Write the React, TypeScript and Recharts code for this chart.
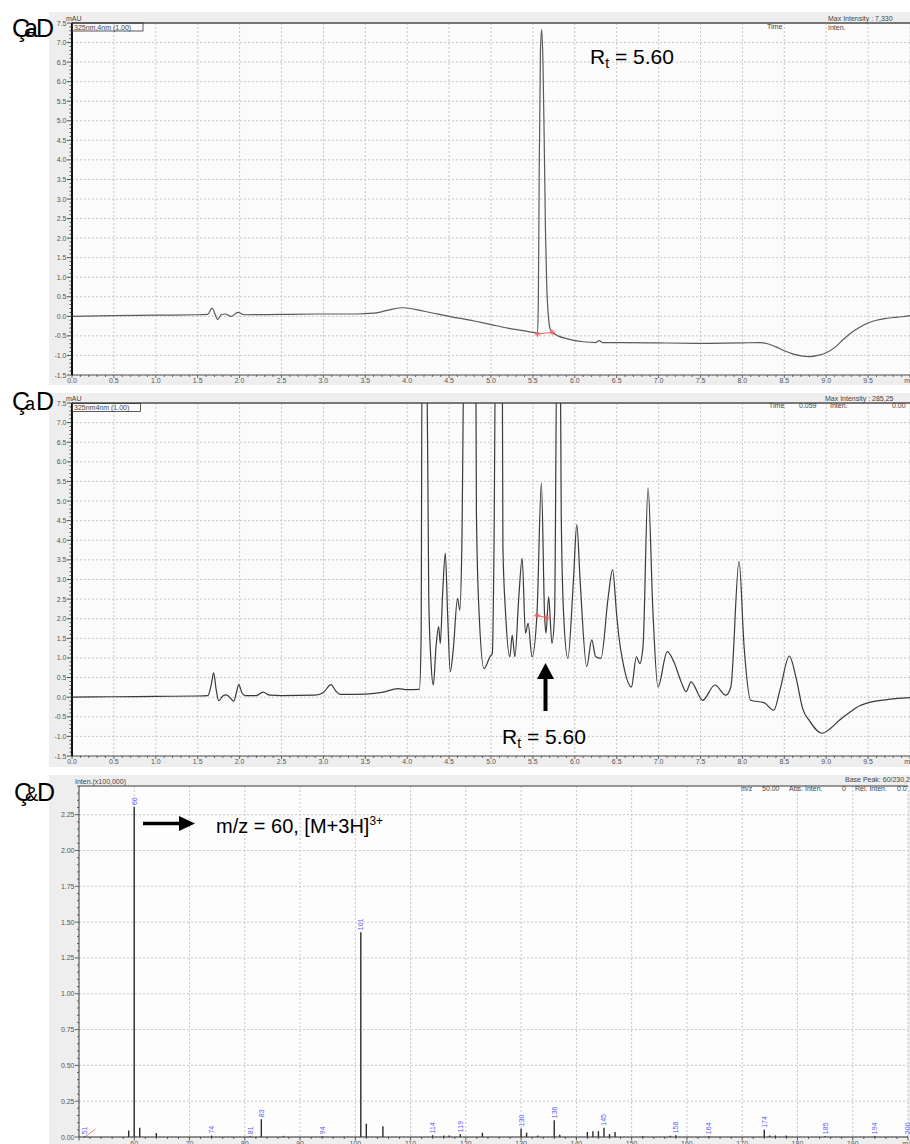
import React from 'react';
import {
  ComposedChart, Line, Bar, XAxis, YAxis, CartesianGrid, ReferenceLine, LabelList,
} from 'recharts';

const FONT = '"Liberation Sans", Arial, sans-serif';

// (a) standard, 325 nm trace (min / mAU)
const timeA = [0, 0.5, 1.0, 1.5, 1.62, 1.67, 1.74, 1.78, 1.83, 1.9, 1.98, 2.05, 2.5, 3.0, 3.4, 3.6, 3.7, 3.8, 3.95, 4.2, 4.5, 4.8, 5.0, 5.2, 5.4, 5.5, 5.555, 5.565, 5.575, 5.59, 5.605, 5.62, 5.635, 5.65, 5.665, 5.685, 5.71, 5.74, 5.8, 5.9, 6.0, 6.1, 6.25, 6.29, 6.33, 6.5, 7.0, 7.5, 8.0, 8.2, 8.3, 8.4, 8.5, 8.6, 8.7, 8.8, 8.9, 9.0, 9.1, 9.2, 9.3, 9.4, 9.5, 9.6, 9.7, 9.8, 9.9, 10.0];
const mauA = [0.0, 0.02, 0.03, 0.04, 0.05, 0.21, -0.08, 0.04, 0.06, 0.0, 0.1, 0.04, 0.05, 0.06, 0.06, 0.08, 0.12, 0.17, 0.22, 0.13, 0.0, -0.12, -0.21, -0.3, -0.37, -0.41, -0.43, 0.4, 3.6, 6.8, 7.33, 6.5, 4.5, 2.2, 0.8, 0.0, -0.35, -0.42, -0.5, -0.57, -0.62, -0.65, -0.67, -0.62, -0.67, -0.67, -0.68, -0.69, -0.68, -0.67, -0.7, -0.78, -0.88, -0.96, -1.01, -1.03, -1.0, -0.93, -0.8, -0.6, -0.42, -0.28, -0.17, -0.1, -0.06, -0.03, -0.01, 0.02];
const baseTimeA = [5.555, 5.73];
const baseMauA = [-0.45, -0.41];

// (b) sample, 325 nm trace (min / mAU); large peaks run off scale
const timeB = [0, 0.5, 1.0, 1.5, 1.62, 1.66, 1.69, 1.72, 1.75, 1.8, 1.84, 1.89, 1.93, 1.96, 1.99, 2.03, 2.07, 2.2, 2.28, 2.36, 2.5, 2.9, 3.0, 3.09, 3.15, 3.2, 3.5, 3.7, 3.89, 4.0, 4.146, 4.166, 4.178, 4.233, 4.257, 4.285, 4.312, 4.344, 4.375, 4.395, 4.423, 4.455, 4.482, 4.514, 4.549, 4.601, 4.628, 4.652, 4.68, 4.818, 4.826, 4.858, 4.917, 4.988, 5.016, 5.036, 5.055, 5.134, 5.142, 5.174, 5.225, 5.253, 5.285, 5.332, 5.372, 5.411, 5.443, 5.49, 5.549, 5.601, 5.64, 5.656, 5.688, 5.727, 5.759, 5.787, 5.826, 5.838, 5.866, 5.917, 5.984, 6.024, 6.063, 6.142, 6.202, 6.249, 6.312, 6.399, 6.451, 6.498, 6.526, 6.577, 6.676, 6.735, 6.775, 6.814, 6.874, 6.933, 6.992, 7.103, 7.182, 7.269, 7.328, 7.387, 7.526, 7.672, 7.802, 7.862, 7.96, 8.02, 8.099, 8.257, 8.375, 8.45, 8.56, 8.64, 8.72, 8.8, 8.95, 9.05, 9.15, 9.29, 9.4, 9.54, 9.7, 9.85, 10.0];
const mauB = [0.0, 0.01, 0.02, 0.03, 0.04, 0.3, 0.62, 0.2, -0.09, 0.03, 0.06, -0.02, -0.1, 0.1, 0.32, 0.1, 0.04, 0.04, 0.13, 0.05, 0.04, 0.05, 0.12, 0.32, 0.15, 0.07, 0.08, 0.12, 0.22, 0.19, 0.2, 1.5, 9, 9, 2.56, 0.86, 0.31, 1.29, 1.8, 1.37, 2.65, 3.67, 2.14, 0.65, 1.2, 2.52, 2.22, 3.84, 9, 9, 4.69, 2.14, 0.73, 1.03, 1.12, 3.84, 9, 9, 3.84, 2.14, 1.03, 1.58, 1.03, 2.56, 3.54, 1.63, 1.88, 1.03, 2.14, 5.46, 2.05, 1.63, 2.56, 1.37, 2.14, 9, 9, 4.69, 2.14, 0.99, 2.99, 4.4, 2.99, 0.78, 1.46, 1.03, 0.99, 2.56, 3.25, 2.14, 1.54, 0.86, 0.26, 1.03, 0.86, 1.29, 5.33, 2.14, 0.26, 1.16, 0.9, 0.39, 0.14, 0.39, -0.08, 0.31, 0.05, 0.26, 3.46, 1.29, -0.08, -0.14, -0.33, 0.2, 1.05, 0.5, -0.3, -0.6, -0.92, -0.8, -0.6, -0.37, -0.22, -0.12, -0.07, -0.03, -0.01];
const baseTimeB = [5.55, 5.665];
const baseMauB = [2.08, 2.03];

// (c) mass spectrum (m/z / Inten. x100,000)
const mzC = [51, 59, 60, 61, 64, 74, 81, 83, 87, 94, 101, 102, 105, 114, 116, 117, 119, 123, 130, 131, 133, 136, 137, 142, 143, 144, 145, 146, 147, 152, 157, 158, 164, 174, 175, 176, 178, 185, 194, 200];
const intenC = [0.005, 0.045, 2.3026, 0.065, 0.028, 0.01, 0.006, 0.124, 0.008, 0.006, 1.43, 0.093, 0.075, 0.012, 0.01, 0.01, 0.02, 0.03, 0.06, 0.03, 0.01, 0.117, 0.015, 0.035, 0.04, 0.04, 0.065, 0.02, 0.035, 0.005, 0.008, 0.012, 0.006, 0.05, 0.01, 0.01, 0.01, 0.006, 0.006, 0.006];
const peakLabelC = ['51', '', '60', '', '', '74', '81', '83', '', '94', '101', '', '', '114', '', '', '119', '', '130', '', '', '136', '', '', '', '', '145', '', '', '', '', '158', '164', '174', '', '', '', '185', '194', '200'];

// axis ticks
const timeMajor = [0, 0.5, 1, 1.5, 2, 2.5, 3, 3.5, 4, 4.5, 5, 5.5, 6, 6.5, 7, 7.5, 8, 8.5, 9, 9.5, 10];
const mauMajor = [-1.5, -1, -0.5, 0, 0.5, 1, 1.5, 2, 2.5, 3, 3.5, 4, 4.5, 5, 5.5, 6, 6.5, 7, 7.5];
const mzMajor = [50, 60, 70, 80, 90, 100, 110, 120, 130, 140, 150, 160, 170, 180, 190, 200];
const intenMajor = [0, 0.25, 0.5, 0.75, 1, 1.25, 1.5, 1.75, 2, 2.25];

const steps = (from: number, to: number, step: number) => {
  const out: number[] = [];
  for (let i = Math.round(from / step); i <= Math.round(to / step); i++) out.push(Math.round(i * step * 1000) / 1000);
  return out;
};
const timeMinor = steps(0, 10, 0.1);
const mauMinor = steps(-1.5, 7.5, 0.1);
const mzMinor = steps(50, 200, 2);
const intenMinor = steps(0, 2.45, 0.05);

const rowsA = timeA.map((t, i) => ({ t, v: mauA[i] }));
const rowsB = timeB.map((t, i) => ({ t, v: mauB[i] }));
const baseA = baseTimeA.map((t, i) => ({ t, v: baseMauA[i] }));
const baseB = baseTimeB.map((t, i) => ({ t, v: baseMauB[i] }));
const rowsC = mzC.map((mz, i) => ({ mz, inten: intenC[i], lab: peakLabelC[i] }));

const isStep = (v: number, s: number) => Math.abs(v / s - Math.round(v / s)) < 1e-6;

function TimeTick(props: any) {
  const { x, y, payload } = props;
  const v = payload.value;
  const major = isStep(v, 0.5);
  return (
    <g>
      <line x1={x} x2={x} y1={y} y2={y + (major ? 3 : 2)} stroke="#444" strokeWidth={0.8} />
      {major && (
        <text x={x} y={y + 8} textAnchor="middle" fontSize={7} fill="#555" fontFamily={FONT}>
          {v >= 10 ? 'min' : v.toFixed(1)}
        </text>
      )}
    </g>
  );
}

function MauTick(props: any) {
  const { x, y, payload } = props;
  const v = payload.value;
  const major = isStep(v, 0.5);
  return (
    <g>
      <line x1={x - (major ? 5 : 2.5)} x2={x + 1} y1={y} y2={y} stroke="#222" strokeWidth={0.8} />
      {major && (
        <text x={x - 5.5} y={y + 2.5} textAnchor="end" fontSize={7} fill="#555" fontFamily={FONT}>
          {v.toFixed(1)}
        </text>
      )}
    </g>
  );
}

function MzTick(props: any) {
  const { x, y, payload } = props;
  const v = payload.value;
  const major = isStep(v, 10);
  return (
    <g>
      <line x1={x} x2={x} y1={y} y2={y + (major ? 3.5 : 2)} stroke="#333" strokeWidth={0.8} />
      {major && v > 50 && (
        <text x={x} y={y + 9} textAnchor="middle" fontSize={7} fill="#555" fontFamily={FONT}>
          {v >= 200 ? 'm/z' : v}
        </text>
      )}
    </g>
  );
}

function IntenTick(props: any) {
  const { x, y, payload } = props;
  const v = payload.value;
  const major = isStep(v, 0.25);
  return (
    <g>
      <line x1={x - (major ? 4 : 2)} x2={x} y1={y} y2={y} stroke="#444" strokeWidth={0.8} />
      {major && (
        <text x={x - 4.5} y={y + 2.5} textAnchor="end" fontSize={7} fill="#555" fontFamily={FONT}>
          {v.toFixed(2)}
        </text>
      )}
    </g>
  );
}

function Asterisk(props: any) {
  const { cx, cy } = props;
  if (cx == null || cy == null) return <g />;
  return (
    <g stroke="#f06060" strokeWidth={0.9}>
      <line x1={cx - 3} x2={cx + 3} y1={cy} y2={cy} />
      <line x1={cx} x2={cx} y1={cy - 3} y2={cy + 3} />
      <line x1={cx - 2} x2={cx + 2} y1={cy - 2} y2={cy + 2} />
      <line x1={cx - 2} x2={cx + 2} y1={cy + 2} y2={cy - 2} />
    </g>
  );
}

function MzLabel(props: any) {
  const { x, y, width, value } = props;
  if (!value) return null;
  const cx = x + width / 2;
  return (
    <text
      transform={`translate(${cx + 2.5} ${y - 2}) rotate(-90)`}
      fontSize={7}
      fill="#5a5aff"
      fontFamily={FONT}
    >
      {value}
    </text>
  );
}

function Chromatogram({ rows, base, stroke, height, top, bottom }: any) {
  return (
    <ComposedChart width={861} height={height} data={rows} margin={{ top, right: 0, bottom: 0, left: 0 }}>
      <CartesianGrid
        stroke="#c6c6c6"
        strokeDasharray="2 2"
        fill="#fbfbfb"
        horizontalValues={mauMajor}
        verticalValues={timeMajor}
      />
      <XAxis
        type="number"
        dataKey="t"
        domain={[0, 10]}
        ticks={timeMinor}
        interval={0}
        tick={<TimeTick />}
        tickLine={false}
        tickSize={0}
        tickMargin={0}
        height={bottom}
        axisLine={{ stroke: '#555' }}
        allowDataOverflow
      />
      <YAxis
        type="number"
        domain={[-1.5, 7.5]}
        ticks={mauMinor}
        interval={0}
        tick={<MauTick />}
        tickLine={false}
        tickSize={0}
        tickMargin={0}
        width={23}
        axisLine={{ stroke: '#111', strokeWidth: 2 }}
        allowDataOverflow
      />
      <ReferenceLine y={7.5} stroke="#777" strokeWidth={2} />
      <Line type="monotone" dataKey="v" stroke={stroke} strokeWidth={1.2} dot={false} isAnimationActive={false} />
      <Line
        data={base}
        type="linear"
        dataKey="v"
        stroke="#f06060"
        strokeWidth={1}
        dot={(p: any) => <Asterisk key={`m${p.index}`} {...p} />}
        isAnimationActive={false}
      />
    </ComposedChart>
  );
}

export default function App() {
  return (
    <div style={{ position: 'absolute', left: 0, top: 0, width: 910, height: 1144, background: '#fff', overflow: 'hidden', fontFamily: FONT }}>
      {/* (a) */}
      <div style={{ position: 'absolute', left: 49, top: 12, width: 861, height: 373, background: '#eeeeee' }}>
        <Chromatogram rows={rowsA} base={baseA} stroke="#5a5a5a" height={373} top={11} bottom={10} />
      </div>

      {/* (b) */}
      <div style={{ position: 'absolute', left: 49, top: 393, width: 861, height: 374, background: '#eeeeee' }}>
        <Chromatogram rows={rowsB} base={baseB} stroke="#3a3a3a" height={374} top={10} bottom={11} />
      </div>

      {/* (c) */}
      <div style={{ position: 'absolute', left: 49, top: 775, width: 861, height: 369, background: '#eeeeee' }}>
        <ComposedChart width={861} height={369} data={rowsC} margin={{ top: 11, right: 2, bottom: 0, left: 0 }}>
          <CartesianGrid stroke="#c6c6c6" strokeDasharray="2 2" fill="#fdfdfd" horizontalValues={intenMajor} verticalValues={mzMajor} />
          <XAxis type="number" dataKey="mz" domain={[50, 200]} ticks={mzMinor} interval={0} tick={<MzTick />}
            tickLine={false} tickSize={0} tickMargin={0} height={7} axisLine={{ stroke: '#333' }} allowDataOverflow />
          <YAxis type="number" domain={[0, 2.45]} ticks={intenMinor} interval={0} tick={<IntenTick />}
            tickLine={false} tickSize={0} tickMargin={0} width={30} axisLine={{ stroke: '#444' }} allowDataOverflow />
          <ReferenceLine y={2.45} stroke="#777" strokeWidth={1.5} />
          <ReferenceLine segment={[{ x: 51, y: 0 }, { x: 53, y: 0.055 }]} stroke="#f08080" strokeWidth={1} />
          <Bar dataKey="inten" barSize={1.4} fill="#2a2a2a" isAnimationActive={false}>
            <LabelList dataKey="lab" content={<MzLabel />} />
          </Bar>
        </ComposedChart>
      </div>

      {/* annotations and instrument headers */}
      <svg width={910} height={1144} style={{ position: 'absolute', left: 0, top: 0, pointerEvents: 'none' }} fontFamily={FONT}>
        {/* panel letters */}
        <g fontSize={25} fill="#000">
          <text x={12} y={37}>Ç</text>
          <text x={24} y={37}>a</text>
          <text x={27} y={37} fontSize={16}>e</text>
          <text x={36} y={37}>D</text>

          <text x={12} y={410}>Ç</text>
          <text x={25} y={410} fontSize={18}>a</text>
          <text x={36} y={410}>D</text>

          <text x={14} y={801}>Ç</text>
          <text x={25} y={801} fontSize={20}>&amp;</text>
          <text x={37} y={801}>D</text>
        </g>

        {/* (a) header */}
        <g fontSize={7} fill="#444">
          <text x={66} y={21}>mAU</text>
          <text x={74} y={29.5}>325nm,4nm (1.00)</text>
          <text x={828} y={21}>Max Intensity :  7,330</text>
          <text x={767} y={29}>Time</text>
          <text x={828} y={30}>Inten.</text>
        </g>
        <rect x={72.5} y={23} width={70.5} height={8} fill="none" stroke="#333" strokeWidth={0.8} />

        {/* (b) header */}
        <g fontSize={7} fill="#444">
          <text x={66} y={401}>mAU</text>
          <text x={74} y={410}>325nm4nm (1.00)</text>
          <text x={825} y={401}>Max Intensity : 285,25</text>
          <text x={769} y={408}>Time</text>
          <text x={799} y={408}>0.059</text>
          <text x={830} y={408}>Inten.</text>
          <text x={892} y={408}>0.00</text>
        </g>
        <rect x={72.5} y={403.5} width={68} height={8} fill="none" stroke="#333" strokeWidth={0.8} />

        {/* (c) header */}
        <g fontSize={7} fill="#444">
          <text x={75} y={784}>Inten.(x100,000)</text>
          <text x={845} y={782}>Base Peak: 60/230,26</text>
          <text x={741} y={791}>m/z</text>
          <text x={762} y={791}>50.00</text>
          <text x={789} y={791}>Abs. Inten.</text>
          <text x={842} y={791}>0</text>
          <text x={855} y={791}>Rel. Inten.</text>
          <text x={897} y={791}>0.0</text>
        </g>

        {/* retention time notes */}
        <text x={590} y={64} fontSize={21} fill="#000">
          R<tspan fontSize={14} dy={4}>t</tspan><tspan dy={-4}> = 5.60</tspan>
        </text>
        <text x={502} y={744} fontSize={21} fill="#000">
          R<tspan fontSize={14} dy={4}>t</tspan><tspan dy={-4}> = 5.60</tspan>
        </text>
        <line x1={545.5} x2={545.5} y1={711} y2={676} stroke="#000" strokeWidth={4} />
        <polygon points="537,679 554,679 545.5,663" fill="#000" />

        {/* m/z note */}
        <line x1={143} x2={181} y1={823.5} y2={823.5} stroke="#000" strokeWidth={3.5} />
        <polygon points="179,816 179,831 195,823.5" fill="#000" />
        <text x={216} y={833} fontSize={20} fill="#000">
          m/z = 60, [M+3H]<tspan fontSize={12} dy={-8}>3+</tspan>
        </text>
      </svg>
    </div>
  );
}
